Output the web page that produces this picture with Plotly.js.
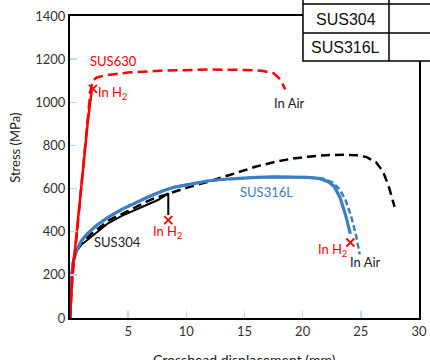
<!DOCTYPE html>
<html><head><meta charset="utf-8">
<script src="https://cdn.plot.ly/plotly-3.0.1.min.js"></script>
<style>html,body{margin:0;padding:0;background:#fff}#chart{width:430px;height:360px}</style>
</head><body><div id="chart"></div>
<script>
// SUS630
const sus630H2_x = [0, 0.1, 0.25, 0.45, 0.8, 1.2, 1.55, 1.88];
const sus630H2_y = [0, 120, 240, 330, 520, 760, 920, 1060];
const sus630Air_x = [0, 0.2, 0.5, 1.0, 1.5, 1.75, 1.95, 2.3, 3, 5, 8, 12, 15, 16.5, 17.5, 18.1, 18.5];
const sus630Air_y = [0, 180, 340, 620, 900, 1050, 1100, 1115, 1125, 1138, 1147, 1152, 1150, 1146, 1135, 1105, 1060];
// SUS304
const sus304H2_x = [0, 0.1, 0.25, 0.5, 0.95, 1.8, 3.3, 4.5, 5.6, 6.7, 7.6, 8.45, 8.45];
const sus304H2_y = [0, 170, 255, 305, 338, 376, 440, 475, 501, 524, 548, 578, 478];
const sus304Air_x = [0, 0.1, 0.25, 0.5, 0.95, 1.8, 3.3, 5.6, 7, 8.9, 10.3, 11.8, 13.2, 14.6, 16, 17.5, 19, 20.5, 22, 23.5, 24.6, 25.5, 26.3, 26.9, 27.4, 27.9];
const sus304Air_y = [0, 170, 255, 312, 346, 388, 452, 515, 550, 584, 608, 630, 655, 677, 702, 722, 738, 748, 755, 757, 755, 746, 722, 680, 610, 515];
// SUS316L
const sus316H2_x = [0, 0.1, 0.25, 0.55, 1, 1.55, 2.3, 3.3, 4.5, 5.6, 6.7, 8, 9, 10.5, 11.8, 13, 14.6, 16, 17.5, 19, 20.5, 21.5, 22.2, 22.7, 23.2, 23.7, 24.1];
const sus316H2_y = [0, 170, 255, 310, 360, 394, 430, 468, 505, 533, 561, 590, 607, 622, 635, 642, 649, 652, 654, 654, 652, 646, 632, 610, 560, 475, 390];
const sus316Air_x = [0, 0.1, 0.25, 0.55, 1, 1.55, 2.3, 3.3, 4.5, 5.6, 6.7, 8, 9, 10.5, 11.8, 13, 14.6, 16, 17.5, 19, 20.5, 21.8, 22.6, 23.2, 23.7, 24.2, 24.6, 24.9];
const sus316Air_y = [0, 170, 255, 310, 360, 394, 430, 468, 505, 533, 561, 590, 607, 622, 635, 642, 649, 652, 654, 654, 652, 646, 628, 595, 545, 465, 380, 295];
// fracture markers in H2
const fracX = [1.97, 8.45, 24.1];
const fracY = [1062, 454, 350];
// axis ticks
const xTicks = [5, 10, 15, 20, 25, 30];
const yTicks = [0, 200, 400, 600, 800, 1000, 1200, 1400];
// table rows
const tableRows = ["SUS304", "SUS316L"];

const RED = '#FF0000', BLUE = '#3D7EC4', BLACK = '#000000';
const traces = [
  {x: sus304Air_x, y: sus304Air_y, mode: 'lines', line: {color: BLACK, width: 2.5, dash: '9px,5px'}},
  {x: sus304H2_x, y: sus304H2_y, mode: 'lines', line: {color: BLACK, width: 2}},
  {x: sus316H2_x, y: sus316H2_y, mode: 'lines', line: {color: BLUE, width: 3.2}},
  {x: sus316Air_x, y: sus316Air_y, mode: 'lines', line: {color: BLUE, width: 2.5, dash: '6px,3px'}},
  {x: sus630Air_x, y: sus630Air_y, mode: 'lines', line: {color: RED, width: 2.5, dash: '10px,5px'}},
  {x: sus630H2_x, y: sus630H2_y, mode: 'lines', line: {color: RED, width: 2.5}},
  {x: fracX, y: fracY, mode: 'markers', marker: {symbol: 'x-thin-open', size: 8, color: RED, line: {color: RED, width: 1.8}}}
];

const lf = {family: 'Lato, "Open Sans", sans-serif', size: 13};
function ann(x, y, text, color, extra) {
  return Object.assign({x: x, y: y, xref: 'x', yref: 'y', text: text, showarrow: false,
    xanchor: 'center', yanchor: 'middle',
    font: Object.assign({}, lf, {color: color})}, extra || {});
}
function pann(x, y, text, font, extra) {
  return Object.assign({x: x, y: y, xref: 'paper', yref: 'paper', text: text, showarrow: false,
    xanchor: 'center', yanchor: 'middle', font: font}, extra || {});
}
const tf = {family: '"Liberation Sans", Arial, sans-serif', size: 16, color: '#111'};
const annotations = [
  ann(3.7, 1191, 'SUS630', RED),
  ann(2.25, 1043, 'In H<sub>2</sub>', RED, {xanchor: 'left'}),
  ann(18.9, 997, 'In Air', '#222'),
  ann(4.1, 352, 'SUS304', '#222'),
  ann(8.35, 397, 'In H<sub>2</sub>', RED),
  ann(16.9, 584, 'SUS316L', BLUE),
  ann(22.6, 313, 'In H<sub>2</sub>', RED),
  ann(25.4, 260, 'In Air', '#222'),
  pann(-0.158, 0.563, 'Stress (MPa)', Object.assign({}, lf, {color: '#222'}), {textangle: -90}),
  pann(0.501, -0.136, 'Crosshead displacement (mm)', Object.assign({}, lf, {color: '#222', size: 14})),
  pann(0.7908, 0.990, tableRows[0], tf),
  pann(0.7908, 0.897, tableRows[1], tf)
];
const shapes = [
  {type: 'rect', xref: 'paper', yref: 'paper', x0: 0.6676, x1: 1.06, y0: 0.851, y1: 1.08,
   fillcolor: '#fff', line: {color: '#000', width: 1.5}, layer: 'above'},
  {type: 'line', xref: 'paper', yref: 'paper', x0: 0.6676, x1: 1.06, y0: 0.9437, y1: 0.9437, line: {color: '#000', width: 1.5}, layer: 'above'},
  {type: 'line', xref: 'paper', yref: 'paper', x0: 0.6676, x1: 1.06, y0: 1.0397, y1: 1.0397, line: {color: '#000', width: 1.5}, layer: 'above'},
  {type: 'line', xref: 'paper', yref: 'paper', x0: 0.914, x1: 0.914, y0: 0.851, y1: 1.08, line: {color: '#000', width: 1.5}, layer: 'above'}
];
const layout = {
  width: 430, height: 360,
  margin: {l: 70, r: 11, t: 16, b: 42},
  paper_bgcolor: '#fff', plot_bgcolor: '#fff',
  showlegend: false,
  font: lf,
  xaxis: {range: [0, 30], tickvals: xTicks, ticks: 'inside', ticklen: 7, tickcolor: '#BDD7EE', tickwidth: 1.5,
          showgrid: false, zeroline: false, showline: true, linecolor: '#000', linewidth: 2, mirror: true,
          tickfont: {family: lf.family, size: 13, color: '#333'}},
  yaxis: {range: [0, 1400], tickvals: yTicks, ticks: 'inside', ticklen: 7, tickcolor: '#BDD7EE', tickwidth: 1.5,
          showgrid: false, zeroline: false, showline: true, linecolor: '#000', linewidth: 2, mirror: true,
          tickfont: {family: lf.family, size: 13, color: '#333'}},
  annotations: annotations,
  shapes: shapes
};
Plotly.newPlot('chart', traces, layout, {staticPlot: true, displayModeBar: false});
</script></body></html>
